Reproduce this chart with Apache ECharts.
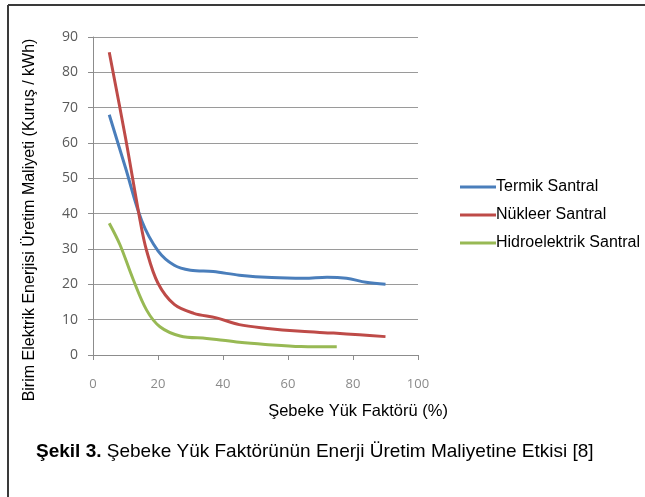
<!DOCTYPE html>
<html>
<head>
<meta charset="utf-8">
<script src="https://cdn.jsdelivr.net/npm/echarts@6/dist/echarts.min.js"></script>
<style>
html,body{margin:0;padding:0;background:#fff;}
#c{width:645px;height:497px;}
</style>
</head>
<body>
<div id="c"></div>
<script>
const seriesNames = ['Termik Santral', 'Nükleer Santral', 'Hidroelektrik Santral'];
const termikX = [5, 10, 15, 20, 25, 30, 37, 45, 55, 65, 72, 78, 84, 90];
const termikY = [68, 53, 38, 29.5, 25.4, 24.0, 23.6, 22.6, 21.9, 21.7, 22.0, 21.7, 20.6, 20.0];
const nukleerX = [5, 10, 14.5, 16.5, 20, 25, 31, 38, 45, 53, 64, 74, 82, 90];
const nukleerY = [85.7, 61.5, 38, 29.5, 20.3, 14.3, 11.8, 10.5, 8.6, 7.6, 6.7, 6.2, 5.7, 5.2];
const hidroX = [5, 8.3, 12.4, 16.5, 20.6, 26.8, 35, 38, 45, 53, 64, 75];
const hidroY = [37.3, 31.2, 21.3, 12.7, 8.0, 5.4, 4.7, 4.4, 3.6, 3.0, 2.4, 2.3];
const xTicks = [0, 20, 40, 60, 80, 100];
const yTicks = [0, 10, 20, 30, 40, 50, 60, 70, 80, 90];
const colors = ['#4A7EBB', '#BE4B48', '#98B954'];
const yTitle = 'Birim Elektrik Enerjisi Üretim Maliyeti (Kuruş / kWh)';
const xTitle = 'Şebeke Yük Faktörü (%)';
const captionBold = 'Şekil 3.';
const captionRest = ' Şebeke Yük Faktörünün Enerji Üretim Maliyetine Etkisi [8]';

function pairs(xs, ys) { return xs.map((x, i) => [x, ys[i]]); }
const allX = [termikX, nukleerX, hidroX];
const allY = [termikY, nukleerY, hidroY];

const chart = echarts.init(document.getElementById('c'), null, {renderer: 'canvas'});
const font = '"Liberation Sans", Arial, sans-serif';
chart.setOption({
  backgroundColor: '#fff',
  animation: false,
  grid: {left: 93, right: 227, top: 37, bottom: 142, containLabel: false},
  xAxis: {
    type: 'value', min: 0, max: 100, interval: 20,
    axisLine: {show: true, lineStyle: {color: '#8c8c8c', width: 1}},
    axisTick: {show: true, length: 5, lineStyle: {color: '#8c8c8c'}},
    axisLabel: {color: '#8a8a8a', fontFamily: '"Open Sans", sans-serif', fontSize: 13, margin: 23,
      formatter: v => xTicks.includes(v) ? String(v) : ''},
    splitLine: {show: false}
  },
  yAxis: {
    type: 'value', min: 0, max: 90, interval: 10,
    axisLine: {show: true, lineStyle: {color: '#8c8c8c', width: 1}},
    axisTick: {show: true, length: 5, lineStyle: {color: '#8c8c8c'}},
    axisLabel: {color: '#5a5a5a', fontFamily: '"Open Sans", sans-serif', fontSize: 14, margin: 15,
      formatter: v => yTicks.includes(v) ? String(v) : ''},
    splitLine: {show: true, lineStyle: {color: '#9a9a9a', width: 1}}
  },
  legend: {
    orient: 'vertical', left: 455, top: 174, itemGap: 12, itemWidth: 36, itemHeight: 3,
    icon: 'rect',
    textStyle: {color: '#000', fontFamily: font, fontSize: 16, padding: [0, 0, 0, -5]},
    data: seriesNames
  },
  series: seriesNames.map((n, i) => ({
    name: n, type: 'line', smooth: 0.35, showSymbol: false, symbol: 'none',
    lineStyle: {color: colors[i], width: 3},
    itemStyle: {color: colors[i]},
    data: pairs(allX[i], allY[i])
  })),
  graphic: [
    {type: 'line', shape: {x1: 8, y1: 5, x2: 645, y2: 5}, style: {stroke: '#3a3a3a', lineWidth: 2}},
    {type: 'line', shape: {x1: 8, y1: 5, x2: 8, y2: 497}, style: {stroke: '#3a3a3a', lineWidth: 2}},
    {type: 'text', x: 30, y: 220, rotation: Math.PI / 2, originX: 0, originY: 0,
      style: {text: yTitle, fill: '#000', font: '16px ' + font, textAlign: 'center', textVerticalAlign: 'middle'}},
    {type: 'text', x: 358, y: 411,
      style: {text: xTitle, fill: '#000', font: '16.5px ' + font, textAlign: 'center', textVerticalAlign: 'middle'}},
    {type: 'text', x: 36, y: 452,
      style: {text: '{b|' + captionBold + '}' + captionRest, fill: '#000', font: '19px ' + font,
        textVerticalAlign: 'middle', rich: {b: {fontWeight: 'bold', fontFamily: 'Liberation Sans', fontSize: 19, fill: '#000'}}}}
  ]
});
</script>
</body>
</html>
